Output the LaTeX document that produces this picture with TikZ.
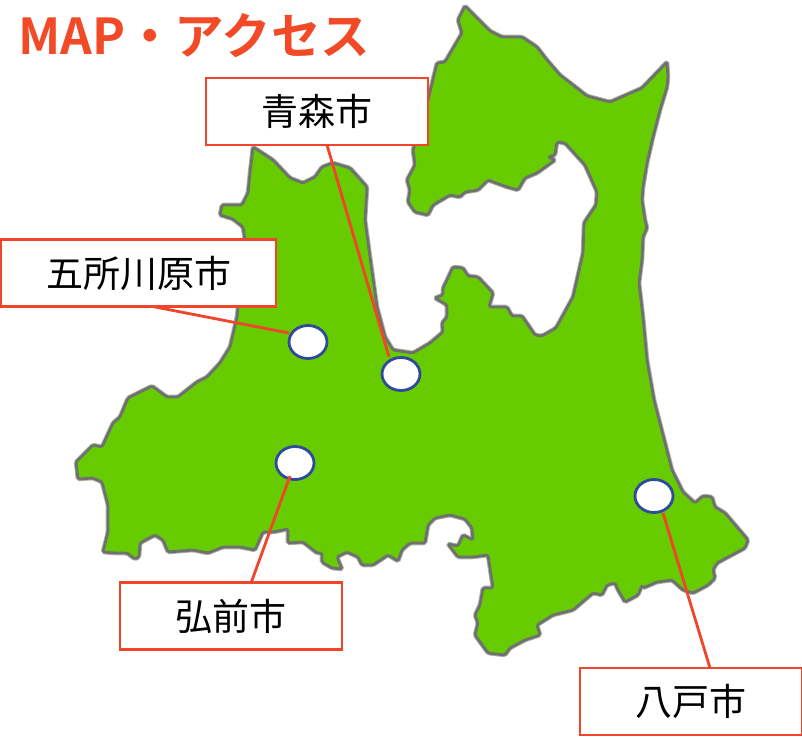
\documentclass[tikz,border=0pt]{standalone}
\usepackage{fontspec}
\newfontfamily\cjk{Noto Sans CJK JP}
\newfontfamily\cjkb{Noto Sans CJK JP Bold}
\definecolor{landgreen}{HTML}{66CC00}
\definecolor{coastgray}{HTML}{707070}
\definecolor{coastsoft}{HTML}{A8B8A0}
\definecolor{labelred}{HTML}{F0452A}
\definecolor{cityblue}{HTML}{2F4A9A}
\definecolor{titlered}{HTML}{F24A26}
\tikzset{
  land/.style={fill=landgreen,draw=coastgray,line width=2.8pt,line join=round,rounded corners=1.5pt,preaction={draw=coastsoft,line width=4.6pt}},
  labelbox/.style={rectangle,draw=labelred,fill=white,line width=2.8pt,inner sep=0pt,minimum height=67pt,font=\cjk\fontsize{37}{37}\selectfont,text=black},
  city/.style={ellipse,draw=cityblue,fill=white,line width=2.8pt,minimum width=38pt,minimum height=33pt,inner sep=0pt,outer sep=0pt},
  leader/.style={draw=labelred,line width=2.8pt}
}
\usetikzlibrary{shapes.geometric}
\begin{document}
\begin{tikzpicture}[x=1pt,y=-1pt]
\useasboundingbox (0,0) rectangle (802,736);
\draw[land] (465,6) -- (482,23) -- (490,31) -- (502,37) -- (522,37) -- (537,47) -- (547,60) -- (560,75) -- (573,85) -- (587,96) -- (610,102) -- (642,88) -- (667,62) -- (668,77) -- (667,87) -- (660,110) -- (653,137) -- (647,163) -- (643,187) -- (642,200) -- (645,220) -- (647,228) -- (643,237) -- (642,260) -- (639,283) -- (643,317) -- (647,360) -- (654,400) -- (672,470) -- (683,492) -- (695,503) -- (703,496) -- (712,497) -- (715,507) -- (725,513) -- (748,540) -- (745,548) -- (717,563) -- (713,570) -- (715,578) -- (708,585) -- (693,593) -- (683,590) -- (672,580) -- (657,582) -- (643,588) -- (642,585) -- (638,595) -- (625,602) -- (618,590) -- (615,583) -- (607,585) -- (602,595) -- (593,593) -- (573,610) -- (553,615) -- (537,625) -- (540,635) -- (525,640) -- (510,648) -- (505,655) -- (488,653) -- (475,635) -- (478,623) -- (475,615) -- (480,605) -- (483,588) -- (493,588) -- (488,555) -- (473,557) -- (458,557) -- (448,544) -- (458,546) -- (463,535) -- (473,540) -- (472,528) -- (465,519) -- (450,515) -- (435,518) -- (428,525) -- (425,543) -- (420,543) -- (410,543) -- (402,550) -- (398,561) -- (388,555) -- (373,565) -- (362,565) -- (358,557) -- (347,552) -- (337,557) -- (342,569) -- (332,568) -- (322,562) -- (322,553) -- (317,553) -- (303,542) -- (288,543) -- (288,529) -- (273,532) -- (263,532) -- (255,550) -- (240,547) -- (223,547) -- (208,553) -- (193,550) -- (168,552) -- (163,540) -- (155,535) -- (140,543) -- (139,557) -- (135,559) -- (127,553) -- (115,553) -- (103,552) -- (108,532) -- (108,505) -- (102,482) -- (93,478) -- (78,479) -- (76,462) -- (93,445) -- (102,447) -- (113,423) -- (120,417) -- (128,398) -- (140,392) -- (152,386) -- (167,397) -- (178,397) -- (197,382) -- (207,377) -- (220,363) -- (230,347) -- (237,317) -- (245,240) -- (243,227) -- (233,219) -- (220,215) -- (222,205) -- (242,205) -- (248,193) -- (250,173) -- (253,147) -- (273,160) -- (290,178) -- (303,183) -- (315,177) -- (322,167) -- (333,163) -- (350,168) -- (367,187) -- (365,220) -- (370,257) -- (377,307) -- (385,337) -- (393,350) -- (413,353) -- (430,343) -- (443,332) -- (442,323) -- (447,317) -- (447,305) -- (435,298) -- (443,295) -- (443,288) -- (447,280) -- (453,267) -- (463,268) -- (468,276) -- (478,277) -- (493,293) -- (489,307) -- (507,307) -- (512,316) -- (522,316) -- (535,335) -- (542,336) -- (556,328) -- (573,297) -- (583,253) -- (584,223) -- (596,205) -- (597,192) -- (585,165) -- (565,143) -- (557,142) -- (555,155) -- (548,157) -- (555,160) -- (537,173) -- (525,178) -- (518,190) -- (507,187) -- (488,180) -- (478,190) -- (465,192) -- (460,197) -- (450,195) -- (433,205) -- (428,215) -- (415,212) -- (408,202) -- (410,190) -- (407,180) -- (415,165) -- (413,150) -- (428,100) -- (437,63) -- (445,62) -- (462,33) -- (458,20) -- cycle;
\node[city] (goshoc) at (308,342) {};
\node[city] (aomoric) at (401,374) {};
\node[city] (hirosakic) at (295,463) {};
\node[city] (hachinohec) at (654,496) {};
\coordinate (aomoriend) at (389,357);
\coordinate (goshoend) at (289,333);
\coordinate (hirosakiend) at (290,476);
\coordinate (hachinoheend) at (663,513);
\coordinate (aomoristart) at (327,145);
\coordinate (goshostart) at (150,306);
\coordinate (hirosakistart) at (251,583);
\coordinate (hachinohestart) at (710,668);
\draw[leader] (aomoristart) -- (aomoriend);
\draw[leader] (goshostart) -- (goshoend);
\draw[leader] (hirosakistart) -- (hirosakiend);
\draw[leader] (hachinohestart) -- (hachinoheend);
\node[labelbox,minimum width=222pt] (aomori) at (317,111.5) {青森市};
\node[labelbox,minimum width=275pt] (gosho) at (138.5,273) {五所川原市};
\node[labelbox,minimum width=222pt] (hirosaki) at (231,616) {弘前市};
\node[labelbox,minimum width=222pt] (hachinohe) at (691,701.5) {八戸市};
\node[anchor=west,inner sep=0pt,text=titlered,font=\cjkb\fontsize{49.5}{50}\selectfont] (title) at (18,36) {MAP・アクセス};
\end{tikzpicture}
\end{document}
